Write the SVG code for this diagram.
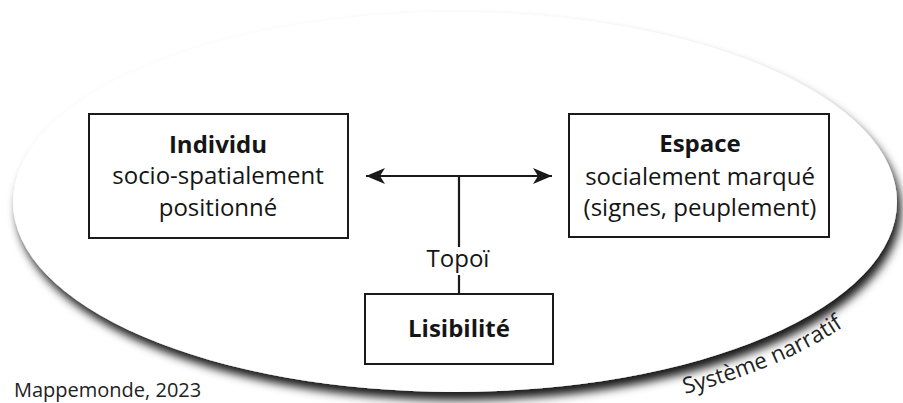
<svg xmlns="http://www.w3.org/2000/svg" width="903" height="403" viewBox="0 0 903 403">
  <style>
    .box { fill: #ffffff; stroke: #1a1a1a; stroke-width: 2; }
    .lbl { font-family: "Open Sans", "Noto Sans", sans-serif; font-size: 24px; fill: #151515; text-anchor: middle; }
    .bold { font-weight: bold; }
    .conn { stroke: #1a1a1a; stroke-width: 2.2; fill: none; }
    .note { font-family: "Open Sans", "Noto Sans", sans-serif; font-size: 20px; fill: #222222; }
    .arcnote { font-family: "Open Sans", "Noto Sans", sans-serif; font-size: 22.5px; fill: #222222; }
  </style>
  <defs>
    <filter id="shadow" x="-10%" y="-10%" width="120%" height="135%">
      <feDropShadow dx="4" dy="8" stdDeviation="5" flood-color="#000000" flood-opacity="0.9"/>
    </filter>
    <marker id="arrow" markerUnits="userSpaceOnUse" markerWidth="22" markerHeight="20" viewBox="-20 -10 22 20" refX="0" refY="0" orient="auto-start-reverse">
      <path d="M0,0 L-19,-8 L-14,0 L-19,8 Z" fill="#1a1a1a"/>
    </marker>
    <path id="arcPath" d="M 685,394 A 470,218 0 0 0 925,202"/>
  </defs>
  <rect x="0" y="0" width="903" height="403" fill="#ffffff"/>
  <g id="systeme">
    <ellipse cx="455" cy="202" rx="442" ry="190" fill="#ffffff" filter="url(#shadow)"/>
    <text class="arcnote"><textPath href="#arcPath">Système narratif</textPath></text>
  </g>
  <g id="connectors">
    <line class="conn" x1="366" y1="176" x2="552" y2="176" marker-start="url(#arrow)" marker-end="url(#arrow)"/>
    <line class="conn" x1="459" y1="176" x2="459" y2="247"/>
    <line class="conn" x1="459" y1="275" x2="459" y2="294"/>
    <text class="lbl" x="458" y="267">Topoï</text>
  </g>
  <g id="individu">
    <rect class="box" x="89" y="114" width="259" height="124"/>
    <text class="lbl bold" x="218" y="153">Individu</text>
    <text class="lbl" x="218" y="184">socio-spatialement</text>
    <text class="lbl" x="218" y="216">positionné</text>
  </g>
  <g id="espace">
    <rect class="box" x="569" y="114" width="260" height="123"/>
    <text class="lbl bold" x="700" y="152">Espace</text>
    <text class="lbl" x="700" y="185">socialement marqué</text>
    <text class="lbl" x="700" y="216">(signes, peuplement)</text>
  </g>
  <g id="lisibilite">
    <rect class="box" x="365" y="294" width="188" height="70"/>
    <text class="lbl bold" x="459" y="337">Lisibilité</text>
  </g>
  <text class="note" x="14" y="397">Mappemonde, 2023</text>
</svg>
